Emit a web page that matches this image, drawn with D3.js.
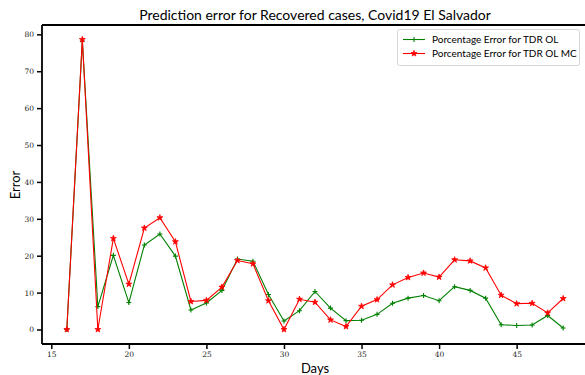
<!DOCTYPE html>
<html><head><meta charset="utf-8">
<script src="https://cdn.jsdelivr.net/npm/d3@7"></script>
<style>body{margin:0;background:#fff}svg{display:block}</style>
</head><body>
<script>
const days = d3.range(16, 49);
const errorOL = [0, 78.2, 6.2, 20.1, 7.3, 22.9, 25.9, 19.9, 5.3, 7.2, 10.6, 19.1, 18.5, 9.5, 2.3, 5.1, 10.3, 5.8, 2.4, 2.5, 4.1, 7.1, 8.5, 9.2, 7.8, 11.6, 10.6, 8.5, 1.3, 1.1, 1.2, 3.8, 0.4];
const errorOLMC = [0, 78.6, 0, 24.7, 12.3, 27.5, 30.3, 23.8, 7.6, 7.9, 11.5, 18.7, 17.8, 7.8, 0, 8.2, 7.4, 2.6, 0.8, 6.3, 8.1, 12.1, 14.1, 15.3, 14.2, 18.9, 18.6, 16.7, 9.3, 7.0, 7.1, 4.5, 8.4];
const xTicks = [15, 20, 25, 30, 35, 40, 45];
const yTicks = [0, 10, 20, 30, 40, 50, 60, 70, 80];
const seriesNames = ["Porcentage Error for TDR OL", "Porcentage Error for TDR OL MC"];
const title = "Prediction error for Recovered cases, Covid19 El Salvador";

const W = 585, H = 375;
const L = 42, R = 588, T = 25, B = 344;
const svg = d3.select("body").append("svg").attr("width", W).attr("height", H);

const x = d3.scaleLinear().domain([14.4, 49.6]).range([L, R]);
const y = d3.scaleLinear().domain([-3.93, 82.53]).range([B, T]);

const sans = "Lato, 'Open Sans', sans-serif";
const serif = "'DejaVu Serif', 'Liberation Serif', serif";

// series
const series = [
  {vals: errorOL, color: "#008000", marker: "plus"},
  {vals: errorOLMC, color: "#ff0000", marker: "star"}
];
const line = d3.line().x(d => x(d[0])).y(d => y(d[1]));
const star = d3.symbol().type(d3.symbolStar).size(11);
const g = svg.append("g");
series.forEach(s => {
  const pts = days.map((d, i) => [d, s.vals[i]]);
  g.append("path").datum(pts).attr("d", line).attr("fill", "none")
    .attr("stroke", s.color).attr("stroke-width", 1.1);
  pts.forEach(p => {
    if (s.marker === "plus") {
      g.append("path").attr("d", `M${x(p[0]) - 2.5},${y(p[1])}h5M${x(p[0])},${y(p[1]) - 2.5}v5`)
        .attr("stroke", s.color).attr("stroke-width", 1.1);
    } else {
      g.append("path").attr("d", star()).attr("transform", `translate(${x(p[0])},${y(p[1])})`)
        .attr("fill", s.color).attr("stroke", s.color).attr("stroke-width", 0.8);
    }
  });
});

// frame
svg.append("line").attr("x1", L).attr("x2", W).attr("y1", T).attr("y2", T).attr("stroke", "#000").attr("stroke-width", 1.8);

const xAxis = svg.append("g").attr("transform", `translate(0,${B})`)
  .call(d3.axisBottom(x).tickValues(xTicks).tickSize(5).tickPadding(3).tickFormat(d3.format("d")));
const yAxis = svg.append("g").attr("transform", `translate(${L},0)`)
  .call(d3.axisLeft(y).tickValues(yTicks).tickSize(5).tickPadding(3).tickFormat(d3.format("d")));
[xAxis, yAxis].forEach(a => {
  a.select(".domain").attr("stroke", "#000").attr("stroke-width", 1.8);
  a.selectAll(".tick line").attr("stroke", "#000").attr("stroke-width", 1.5);
  a.selectAll(".tick text").attr("font-family", serif).attr("font-size", 7.5).attr("fill", "#222");
});
xAxis.select(".domain").attr("d", `M${L},0H${W + 5}`);
yAxis.select(".domain").attr("d", `M0,${T}V${B}`);

// labels
svg.append("text").attr("x", 315).attr("y", 20).attr("text-anchor", "middle")
  .attr("font-family", sans).attr("font-size", 14).attr("fill", "#000").text(title);
svg.append("text").attr("x", 315).attr("y", 373).attr("text-anchor", "middle")
  .attr("font-family", sans).attr("font-size", 13).attr("fill", "#000").text("Days");
svg.append("text").attr("transform", "translate(20,185) rotate(-90)").attr("text-anchor", "middle")
  .attr("font-family", sans).attr("font-size", 13).attr("fill", "#000").text("Error");

// legend
const lg = svg.append("g");
lg.append("rect").attr("x", 397.5).attr("y", 29.5).attr("width", 182).attr("height", 36).attr("rx", 2)
  .attr("fill", "#fff").attr("fill-opacity", 0.8).attr("stroke", "#ccc").attr("stroke-width", 0.8);
series.forEach((s, i) => {
  const yy = 39.5 + i * 14;
  lg.append("line").attr("x1", 403).attr("x2", 425).attr("y1", yy).attr("y2", yy)
    .attr("stroke", s.color).attr("stroke-width", 1.1);
  if (s.marker === "plus") {
    lg.append("path").attr("d", `M411.5,${yy}h5M414,${yy - 2.5}v5`).attr("stroke", s.color).attr("stroke-width", 1.1);
  } else {
    lg.append("path").attr("d", star()).attr("transform", `translate(414,${yy})`).attr("fill", s.color).attr("stroke", s.color).attr("stroke-width", 0.8);
  }
  lg.append("text").attr("x", 432).attr("y", yy + 3.5).attr("font-family", sans).attr("font-size", 10)
    .attr("fill", "#000").text(seriesNames[i]);
});
</script>
</body></html>
